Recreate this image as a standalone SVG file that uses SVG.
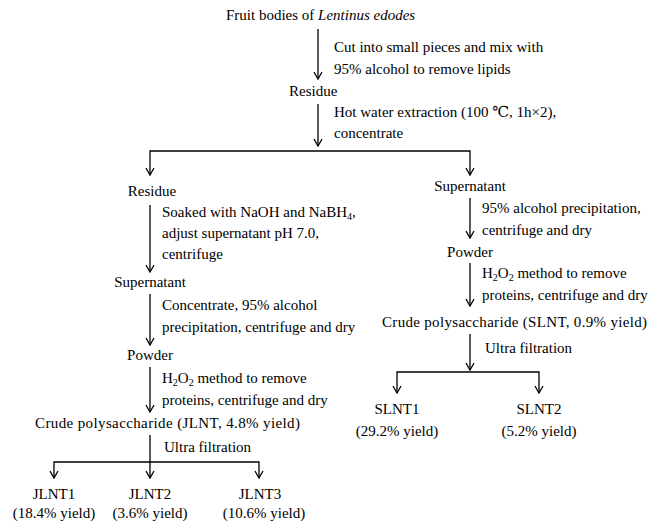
<svg xmlns="http://www.w3.org/2000/svg" width="654" height="521" viewBox="0 0 654 521" font-family="'Liberation Serif', 'Times New Roman', Tinos, 'DejaVu Serif', serif" font-size="15">
<defs>
<style>
.c{text-anchor:middle}
.sub{font-size:10px}
.ln{fill:none;stroke:#000;stroke-width:1.3}
</style>
<marker id="ah" viewBox="-8 -5 9 10" refX="0" refY="0" markerWidth="9" markerHeight="10" markerUnits="userSpaceOnUse" orient="auto">
<path d="M-7,-4 L0,0 L-7,4" fill="none" stroke="#000" stroke-width="1.3"/>
</marker>
</defs>
<rect width="654" height="521" fill="#fff"/>
<g id="connectors">
<path class="ln" d="M318,29 V79" marker-end="url(#ah)"/>
<path class="ln" d="M318,104 V146" marker-end="url(#ah)"/>
<path class="ln" d="M318,151 H150 V175" marker-end="url(#ah)"/>
<path class="ln" d="M318,151 H470 V175" marker-end="url(#ah)"/>
<path class="ln" d="M150,205 V272" marker-end="url(#ah)"/>
<path class="ln" d="M150,294 V345" marker-end="url(#ah)"/>
<path class="ln" d="M150,367 V412" marker-end="url(#ah)"/>
<path class="ln" d="M150,435 V478" marker-end="url(#ah)"/>
<path class="ln" d="M150,462 H54 V478" marker-end="url(#ah)"/>
<path class="ln" d="M150,462 H259 V478" marker-end="url(#ah)"/>
<path class="ln" d="M470,198 V238" marker-end="url(#ah)"/>
<path class="ln" d="M470,263 V306" marker-end="url(#ah)"/>
<path class="ln" d="M470,334 V370" marker-end="url(#ah)"/>
<path class="ln" d="M470,372 H397 V393" marker-end="url(#ah)"/>
<path class="ln" d="M470,372 H539 V393" marker-end="url(#ah)"/>
</g>
<g id="step-labels">
<text x="334" y="52">Cut into small pieces and mix with</text>
<text x="334" y="74">95% alcohol to remove lipids</text>
<text x="334" y="117">Hot water extraction (100 ℃, 1h×2),</text>
<text x="334" y="138">concentrate</text>
<text x="162" y="217">Soaked with NaOH and NaBH<tspan class="sub" dy="3">4</tspan><tspan dy="-3">,</tspan></text>
<text x="162" y="238">adjust supernatant pH 7.0,</text>
<text x="162" y="259">centrifuge</text>
<text x="162" y="310">Concentrate, 95% alcohol</text>
<text x="162" y="332">precipitation, centrifuge and dry</text>
<text x="162" y="383">H<tspan class="sub" dy="3">2</tspan><tspan dy="-3">O</tspan><tspan class="sub" dy="3">2</tspan><tspan dy="-3"> method to remove</tspan></text>
<text x="162" y="405">proteins, centrifuge and dry</text>
<text x="164" y="452">Ultra filtration</text>
<text x="482" y="213">95% alcohol precipitation,</text>
<text x="482" y="235">centrifuge and dry</text>
<text x="482" y="278">H<tspan class="sub" dy="3">2</tspan><tspan dy="-3">O</tspan><tspan class="sub" dy="3">2</tspan><tspan dy="-3"> method to remove</tspan></text>
<text x="482" y="300">proteins, centrifuge and dry</text>
<text x="485" y="353">Ultra filtration</text>
</g>
<g id="n-fruit"><text x="226" y="20">Fruit bodies of <tspan font-style="italic">Lentinus edodes</tspan></text></g>
<g id="n-residue1"><text x="289" y="96">Residue</text></g>
<g id="n-residue2"><text class="c" x="152" y="196">Residue</text></g>
<g id="n-supernatant-l"><text class="c" x="150" y="287">Supernatant</text></g>
<g id="n-powder-l"><text class="c" x="150" y="360">Powder</text></g>
<g id="n-jlnt"><text x="35" y="428" textLength="265" lengthAdjust="spacing">Crude polysaccharide (JLNT, 4.8% yield)</text></g>
<g id="n-jlnt1"><text class="c" x="54" y="499">JLNT1</text><text class="c" x="54" y="518">(18.4% yield)</text></g>
<g id="n-jlnt2"><text class="c" x="150" y="499">JLNT2</text><text class="c" x="150" y="518">(3.6% yield)</text></g>
<g id="n-jlnt3"><text class="c" x="260" y="499">JLNT3</text><text class="c" x="264" y="518">(10.6% yield)</text></g>
<g id="n-supernatant-r"><text class="c" x="470" y="191">Supernatant</text></g>
<g id="n-powder-r"><text class="c" x="470" y="257">Powder</text></g>
<g id="n-slnt"><text x="382" y="327" textLength="265" lengthAdjust="spacing">Crude polysaccharide (SLNT, 0.9% yield)</text></g>
<g id="n-slnt1"><text class="c" x="397" y="414">SLNT1</text><text class="c" x="397" y="436">(29.2% yield)</text></g>
<g id="n-slnt2"><text class="c" x="539" y="414">SLNT2</text><text class="c" x="539" y="436">(5.2% yield)</text></g>
</svg>
